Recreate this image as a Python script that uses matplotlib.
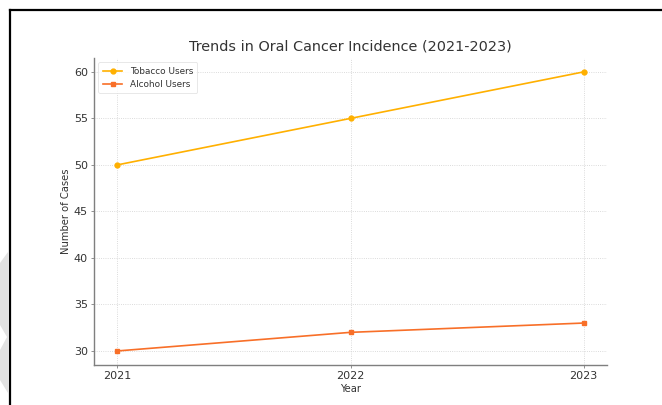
import matplotlib
matplotlib.use("Agg")
import matplotlib.pyplot as plt
from matplotlib.patches import Polygon
from matplotlib.lines import Line2D

years = [2021, 2022, 2023]
tobacco = [50, 55, 60]
alcohol = [30, 32, 33]

title = "Trends in Oral Cancer Incidence (2021-2023)"
text_col = "#333333"
spine_col = "#7f7f7f"

W, H = 662, 405
fig = plt.figure(figsize=(W / 100, H / 100), dpi=100)
ax = fig.add_axes([0.142, 0.099, 0.775, 0.758])

ax.plot(years, tobacco, color="#FFB000", marker="o", markersize=3.5,
        linewidth=1.2, label="Tobacco Users")
ax.plot(years, alcohol, color="#F86F28", marker="s", markersize=3.5,
        linewidth=1.2, label="Alcohol Users")

ax.set_xticks(years)
ax.set_yticks([30, 35, 40, 45, 50, 55, 60])
ax.set_title(title, fontsize=10.4, color=text_col, pad=5)
ax.set_xlabel("Year", fontsize=7.2, color=text_col, labelpad=2)
ax.set_ylabel("Number of Cases", fontsize=7.2, color=text_col, labelpad=2)
ax.tick_params(labelsize=8, colors=text_col, length=2.5, width=0.6,
               color=spine_col, pad=2)
ax.grid(True, linestyle=":", linewidth=0.6, color="#cfcfcf")
for s in ["top", "right"]:
    ax.spines[s].set_visible(False)
for s in ["left", "bottom"]:
    ax.spines[s].set_color(spine_col)
    ax.spines[s].set_linewidth(1.0)

leg = ax.legend(loc="upper left", fontsize=6.4, frameon=True,
                borderpad=0.5, handlelength=2.2, labelspacing=0.45)
leg.get_frame().set_edgecolor("#dddddd")
leg.get_frame().set_linewidth(0.6)
for t in leg.get_texts():
    t.set_color(text_col)

# screenshot frame and grey decoration on the left edge (pixel coords)
deco = [(0, 263), (8, 252), (8, 393), (0, 380), (0, 350), (7, 337), (0, 325)]
fig.add_artist(Polygon([(x / W, 1 - y / H) for x, y in deco], closed=True,
                       transform=fig.transFigure, facecolor="#e2e2e2",
                       edgecolor="none"))
fig.add_artist(Line2D([10 / W, 1.0], [1 - 10 / H, 1 - 10 / H], color="black",
                      linewidth=1.6, transform=fig.transFigure))
fig.add_artist(Line2D([10 / W, 10 / W], [0.0, 1 - 10 / H], color="black",
                      linewidth=1.6, transform=fig.transFigure))

fig.savefig("out.png", dpi=100)
